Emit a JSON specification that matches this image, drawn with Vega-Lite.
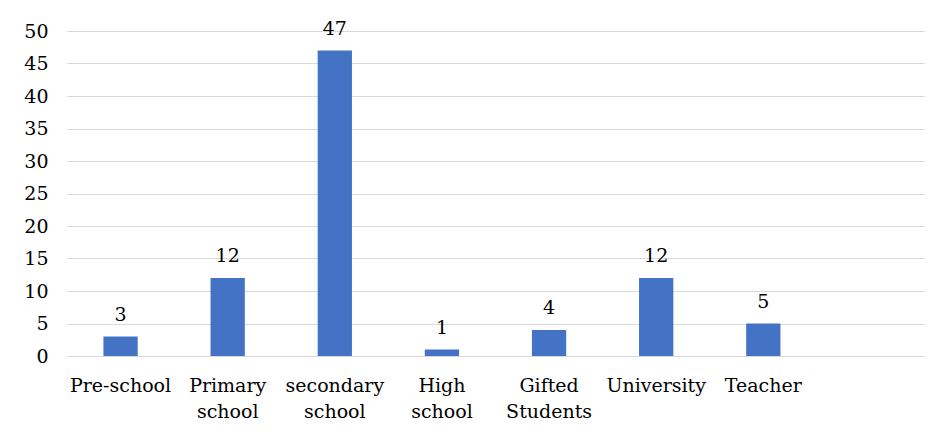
{
  "$schema": "https://vega.github.io/schema/vega-lite/v6.json",
  "autosize": {"type": "none"},
  "width": 857,
  "height": 325,
  "padding": {"left": 67, "top": 31, "right": 14, "bottom": 80},
  "background": "white",
  "config": {
    "view": {"stroke": null},
    "font": "DejaVu Serif"
  },
  "data": {
    "values": [
      {"category": "Pre-school", "value": 3},
      {"category": "Primary school", "value": 12},
      {"category": "secondary school", "value": 47},
      {"category": "High school", "value": 1},
      {"category": "Gifted Students", "value": 4},
      {"category": "University", "value": 12},
      {"category": "Teacher", "value": 5}
    ]
  },
  "encoding": {
    "x": {
      "field": "category",
      "type": "nominal",
      "sort": null,
      "scale": {
        "domain": ["Pre-school", "Primary school", "secondary school", "High school", "Gifted Students", "University", "Teacher", "-"],
        "paddingInner": 0.68,
        "paddingOuter": 0.34
      },
      "axis": {
        "title": null,
        "domain": false,
        "ticks": false,
        "grid": false,
        "labelAngle": 0,
        "labelFont": "DejaVu Serif",
        "labelFontSize": 19,
        "labelColor": "#000000",
        "labelPadding": 20,
        "labelLineHeight": 26,
        "labelExpr": "datum.label == '-' ? '' : split(datum.label, ' ')"
      }
    },
    "y": {
      "field": "value",
      "type": "quantitative",
      "scale": {"domain": [0, 50], "nice": false},
      "axis": {
        "title": null,
        "values": [0, 5, 10, 15, 20, 25, 30, 35, 40, 45, 50],
        "domain": false,
        "ticks": false,
        "gridColor": "#d9d9d9",
        "gridWidth": 1,
        "labelFont": "DejaVu Serif",
        "labelFontSize": 19,
        "labelColor": "#000000",
        "labelPadding": 19
      }
    }
  },
  "layer": [
    {"mark": {"type": "bar", "color": "#4472C4"}},
    {
      "mark": {"type": "text", "font": "DejaVu Serif", "fontSize": 19, "color": "#000000", "baseline": "alphabetic", "dy": -16},
      "encoding": {"text": {"field": "value", "type": "quantitative"}}
    }
  ]
}
